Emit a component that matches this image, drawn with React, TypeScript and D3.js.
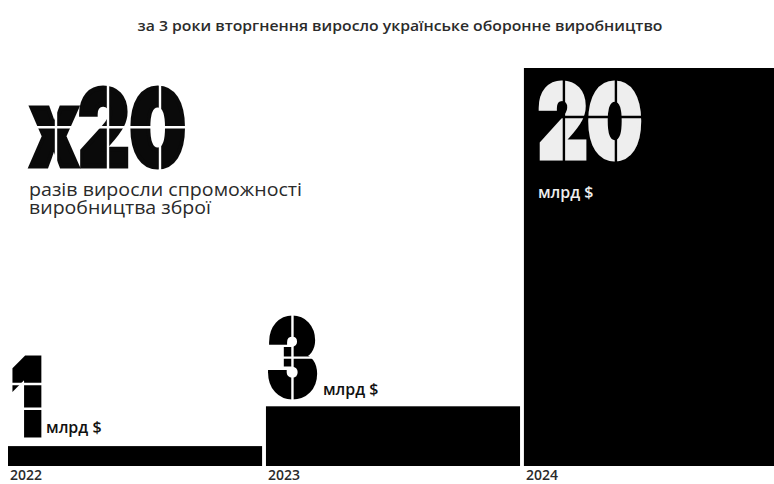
import * as d3 from "d3";
import React from "react";

// data
const years = ["2022", "2023", "2024"];
const values = [1, 3, 20]; // млрд $
const valueLabels = ["1", "3", "20"];
const unitLabel = "млрд $";
const title = "за 3 роки вторгнення виросло українське оборонне виробництво";
const headline = "x20";
const headlineLines = ["разів виросли спроможності", "виробництва зброї"];

const W = 774;
const H = 484;
const DIGIT_FONT = "Inter, 'Liberation Sans', sans-serif";
const TEXT_FONT = "'Open Sans', 'Noto Sans', sans-serif";

interface StencilProps {
	x: number;
	y: number; // baseline
	text: string;
	size: number;
	width: number;
	fill: string;
	bg: string;
	hCuts?: number[]; // fractions of cap height, from the top
	vCut?: boolean;
}

// heavy digits with thin gaps cut through them, to mimic a stencil face
const Stencil: React.FC<StencilProps> = ({ x, y, text, size, width, fill, bg, hCuts = [0.5], vCut = true }) => {
	const cap = size * 0.73;
	const n = text.length;
	return (
		<g>
			<text
				x={x}
				y={y}
				fontFamily={DIGIT_FONT}
				fontWeight={900}
				fontSize={size}
				fill={fill}
				stroke={fill}
				strokeWidth={5}
				strokeLinejoin="miter"
				textLength={width}
				lengthAdjust="spacingAndGlyphs"
			>
				{text}
			</text>
			{hCuts.map((f, i) => (
				<line key={"h" + i} x1={x - 6} x2={x + width + 6} y1={y - cap * (1 - f)} y2={y - cap * (1 - f)} stroke={bg} strokeWidth={2.4} />
			))}
			{vCut &&
				d3.range(n).map((i) => (
					<line
						key={"v" + i}
						x1={x + (width * (i + 0.5)) / n}
						x2={x + (width * (i + 0.5)) / n}
						y1={y - cap - 6}
						y2={y + 6}
						stroke={bg}
						strokeWidth={2.4}
					/>
				))}
		</g>
	);
};

export default function App() {
	const x = d3.scaleBand<string>().domain(years).range([8, 778]).paddingInner(0.015).paddingOuter(0);
	const y = d3.scaleLinear().domain([0, 20]).range([466, 68]);

	const bars = years.map((yr, i) => ({ yr, v: values[i], label: valueLabels[i], x0: x(yr) ?? 0, top: y(values[i]) }));

	return (
		<svg width={W} height={H} style={{ position: "absolute", left: 0, top: 0, background: "#fff" }}>
			<text x={400} y={31} textAnchor="middle" fontFamily={TEXT_FONT} fontWeight={600} fontSize={15} fill="#2b2b2b" textLength={525} lengthAdjust="spacingAndGlyphs">
				{title}
			</text>

			{/* headline block */}
			<Stencil x={30} y={166} text={headline} size={106} width={156} fill="#0a0a0a" bg="#fff" hCuts={[0.5]} />
			{headlineLines.map((t, i) => (
				<text key={t} x={29} y={196 + i * 18} fontFamily={TEXT_FONT} fontSize={18} fill="#2a2a2a" textLength={i === 0 ? 273 : 182} lengthAdjust="spacingAndGlyphs">
					{t}
				</text>
			))}

			{bars.map((b) => (
				<rect key={b.yr} x={b.x0} y={b.top} width={x.bandwidth()} height={y(0) - b.top} fill="#000" />
			))}

			{years.map((yr) => (
				<text key={yr} x={(x(yr) ?? 0) + 2} y={480} fontFamily={TEXT_FONT} fontWeight={600} fontSize={14} fill="#2a2a2a">
					{yr}
				</text>
			))}

			{/* value labels: 2022 and 2023 above their bars, 2024 inside */}
			<Stencil x={bars[0].x0 + 3} y={bars[0].top - 11} text={bars[0].label} size={106} width={32} fill="#000" bg="#fff" hCuts={[0.34, 0.66]} vCut={false} />
			<text x={bars[0].x0 + 38} y={bars[0].top - 13} fontFamily={TEXT_FONT} fontWeight={600} fontSize={16} fill="#111">
				{unitLabel}
			</text>

			<Stencil x={bars[1].x0 + 1} y={bars[1].top - 10} text={bars[1].label} size={106} width={51} fill="#000" bg="#fff" hCuts={[0.5]} />
			<text x={bars[1].x0 + 57} y={bars[1].top - 11} fontFamily={TEXT_FONT} fontWeight={600} fontSize={16} fill="#111">
				{unitLabel}
			</text>

			<Stencil x={bars[2].x0 + 14} y={bars[2].top + 90} text={bars[2].label} size={102} width={104} fill="#eee" bg="#000" hCuts={[0.45]} />
			<text x={bars[2].x0 + 14} y={bars[2].top + 130} fontFamily={TEXT_FONT} fontWeight={600} fontSize={16} fill="#eee">
				{unitLabel}
			</text>
		</svg>
	);
}
